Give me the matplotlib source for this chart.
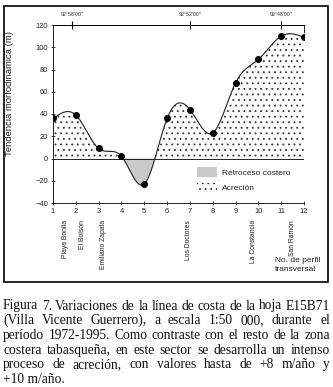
import numpy as np
import matplotlib
matplotlib.use("Agg")
import matplotlib.pyplot as plt
from matplotlib.patches import Patch, Rectangle
from matplotlib import transforms

plt.rcParams['font.family'] = ['Liberation Sans', 'DejaVu Sans']

# ---------------- data ----------------
profiles = [1, 2, 3, 4, 5, 6, 7, 8, 9, 10, 11, 12]
tendency = [36, 39, 9, 2, -23, 36, 44, 23, 68, 89, 110, 109]
yticks = [-40, -20, 0, 20, 40, 60, 80, 100, 120]
site_pos = [1.55, 2.3, 3.2, 6.95, 9.8, 11.5]
site_names = ["Playa Bonita", "El Bolsón", "Emiliano Zapata",
              "Los Doctores", "La Constancia", "San Ramón"]
lon_pos = [1.83, 7.0, 11.0]
lon_labels = ["92°58'00''", "92°52'00''", "92°48'00''"]
legend_labels = ["Retroceso costero", "Acreción"]
caption_lines = [
    "Figura 7. Variaciones de la línea de costa de la hoja E15B71",
    "(Villa Vicente Guerrero), a escala 1:50 000, durante el",
    "período 1972-1995. Como contraste con el resto de la zona",
    "costera tabasqueña, en este sector se desarrolla un intenso",
    "proceso de acreción, con valores hasta de +8 m/año y",
    "+10 m/año.",
]


def natural_spline(x, y, xs):
    x = np.asarray(x, float); y = np.asarray(y, float)
    n = len(x)
    h = np.diff(x)
    A = np.zeros((n, n)); b = np.zeros(n)
    A[0, 0] = 1; A[-1, -1] = 1
    for i in range(1, n - 1):
        A[i, i - 1] = h[i - 1]
        A[i, i] = 2 * (h[i - 1] + h[i])
        A[i, i + 1] = h[i]
        b[i] = 6 * ((y[i + 1] - y[i]) / h[i] - (y[i] - y[i - 1]) / h[i - 1])
    M = np.linalg.solve(A, b)
    idx = np.clip(np.searchsorted(x, xs) - 1, 0, n - 2)
    x0 = x[idx]; x1 = x[idx + 1]; hh = x1 - x0
    t0 = x1 - xs; t1 = xs - x0
    return (M[idx] * t0 ** 3 / (6 * hh) + M[idx + 1] * t1 ** 3 / (6 * hh)
            + (y[idx] / hh - M[idx] * hh / 6) * t0
            + (y[idx + 1] / hh - M[idx + 1] * hh / 6) * t1)


W, H = 333, 387
fig = plt.figure(figsize=(W / 100, H / 100), dpi=100)
plt.rcParams['hatch.linewidth'] = 0.6

ax = fig.add_axes([53 / W, 1 - 203 / H, (304 - 53) / W, (203 - 25) / H])

xs = np.linspace(profiles[0], profiles[-1], 1200)
ys = natural_spline(profiles, tendency, xs)

ax.fill_between(xs, 0, ys, where=ys <= 0, interpolate=True,
                facecolor='#c9c9c9', edgecolor='none', linewidth=0)
ax.fill_between(xs, 0, ys, where=ys >= 0, interpolate=True,
                facecolor='white', edgecolor='#333333', hatch='...', linewidth=0)
ax.axhline(0, color='black', lw=0.6)
ax.plot(xs, ys, color='#222222', lw=0.8)
ax.plot(profiles, tendency, 'o', color='black', ms=4)

ax.set_xlim(profiles[0], profiles[-1])
ax.set_ylim(yticks[0], yticks[-1])
ax.set_xticks(profiles)
ax.set_yticks(yticks)
ax.tick_params(axis='both', labelsize=5.4, width=0.6, length=3, direction='inout',
               pad=2, colors='#333333', labelcolor='#222222')
for s in ['left', 'bottom', 'top']:
    ax.spines[s].set_linewidth(0.6)
ax.spines['right'].set_linewidth(0.6)
ax.spines['right'].set_bounds(114, 120)

sec = ax.secondary_xaxis('top')
sec.set_xticks(lon_pos)
sec.set_xticklabels(lon_labels)
sec.tick_params(labelsize=3.8, length=6, width=0.8, direction='inout', pad=3,
                labelcolor='#333333')
sec.spines['top'].set_linewidth(0.6)

# legend
handles = [Patch(facecolor='#c9c9c9', edgecolor='#c9c9c9', linewidth=0),
           Patch(facecolor='white', edgecolor='#333333', hatch='...', linewidth=0)]
fig.legend(handles, legend_labels, loc='upper left',
           bbox_to_anchor=(197 / W, 1 - 167 / H), bbox_transform=fig.transFigure,
           frameon=False, fontsize=6, borderpad=0, borderaxespad=0,
           handlelength=2.4, handleheight=1.4, handletextpad=0.6,
           labelspacing=0.75, labelcolor='#222222')

# site names
trans = transforms.blended_transform_factory(ax.transData, fig.transFigure)
for p, name in zip(site_pos, site_names):
    ax.text(p, 1 - 220 / H, name, rotation=90, ha='center', va='top',
            fontsize=4.9, transform=trans, color='#222222', clip_on=False)

fig.text(275 / W, 1 - 257 / H, "No. de perfil\ntransversal", ha='left', va='top',
         fontsize=6, linespacing=1.4, color='#222222')
fig.text(10 / W, 1 - 94 / H, "Tendencia morfodinámica (m)", rotation=90,
         ha='center', va='center', fontsize=6.8, color='#222222')

# outer frame
fig.add_artist(Rectangle((3.5 / W, 1 - 282 / H), (328 - 3.5) / W, (282 - 5.5) / H,
                         transform=fig.transFigure, fill=False, lw=1.2,
                         edgecolor='black'))

# caption, justified
fig.canvas.draw()
renderer = fig.canvas.get_renderer()
left_px, right_px = 3.0, 330.0
base0 = 309.5
step = 14.7


def width_px(s, size):
    t = fig.text(0, 0, s, family='Liberation Serif', fontsize=size)
    w = t.get_window_extent(renderer).width
    t.remove()
    return w


s0 = 10.0
maxw = max(width_px(l, s0) for l in caption_lines[:-1])
cap_size = min(11.0, s0 * (right_px - left_px - 2) / maxw)
cap_font = dict(family='Liberation Serif', fontsize=cap_size, color='#111111')

for i, line in enumerate(caption_lines):
    y = 1 - (base0 + i * step) / H
    words = line.split(' ')
    if i == len(caption_lines) - 1 or len(words) == 1:
        fig.text(left_px / W, y, line, va='baseline', ha='left', **cap_font)
        continue
    widths = [width_px(w, cap_size) for w in words]
    gap = (right_px - left_px - sum(widths)) / (len(words) - 1)
    x = left_px
    for w, wd in zip(words, widths):
        fig.text(x / W, y, w, va='baseline', ha='left', **cap_font)
        x += wd + gap

fig.savefig("out.png", dpi=100)
